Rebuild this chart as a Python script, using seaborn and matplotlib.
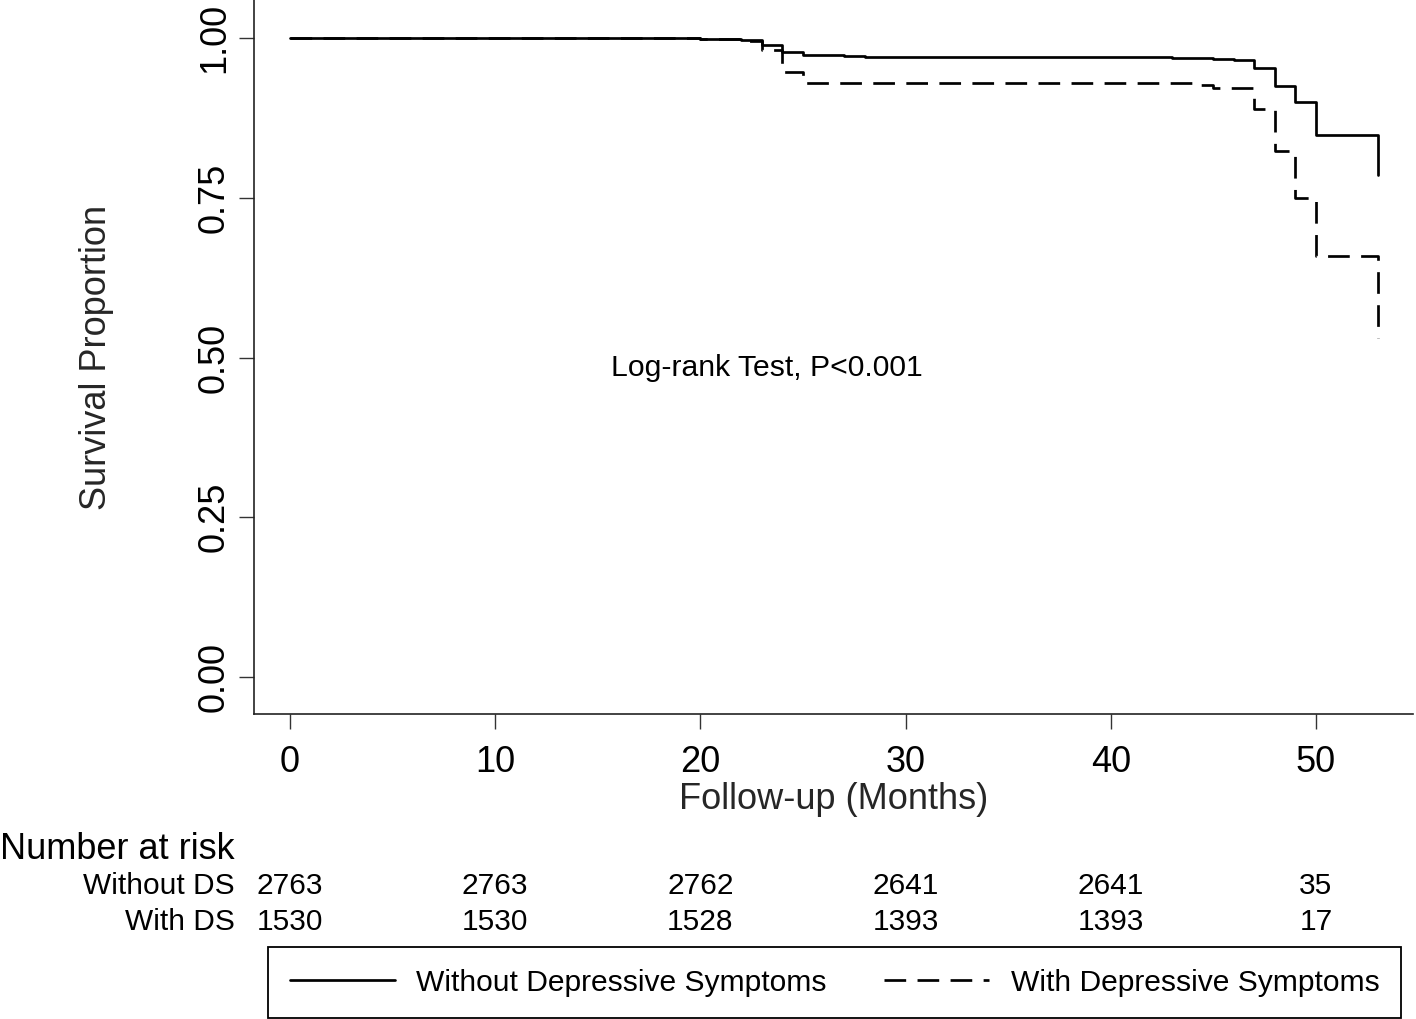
import numpy as np
import pandas as pd
import seaborn as sns
import matplotlib.pyplot as plt
import matplotlib.transforms as mtransforms

# Kaplan-Meier step estimates
groups = ["Without Depressive Symptoms", "With Depressive Symptoms"]
months_without = [0, 20, 22, 23, 24, 25, 27, 28, 43, 45, 46, 47, 48, 49, 50, 53]
surv_without = [1.0, 0.999, 0.997, 0.990, 0.978, 0.974, 0.972, 0.970, 0.969,
                0.967, 0.966, 0.953, 0.925, 0.901, 0.848, 0.786]
months_with = [0, 20, 22, 23, 24, 25, 44, 45, 47, 48, 49, 50, 53]
surv_with = [1.0, 0.999, 0.996, 0.982, 0.948, 0.930, 0.927, 0.922, 0.890,
             0.823, 0.750, 0.659, 0.531]

# number at risk table
risk_times = [0, 10, 20, 30, 40, 50]
risk_labels = ["Without DS", "With DS"]
risk_without = [2763, 2763, 2762, 2641, 2641, 35]
risk_with = [1530, 1530, 1528, 1393, 1393, 17]

x_ticks = [0, 10, 20, 30, 40, 50]
y_ticks = [0.0, 0.25, 0.50, 0.75, 1.0]

df = pd.concat([
    pd.DataFrame({"month": months_without, "surv": surv_without, "group": groups[0]}),
    pd.DataFrame({"month": months_with, "surv": surv_with, "group": groups[1]}),
], ignore_index=True)

sns.set_style("ticks")
plt.rcParams['font.family'] = ['Liberation Sans', 'DejaVu Sans']
plt.rcParams['text.color'] = 'black'

W, H = 1416, 1019
fig = plt.figure(figsize=(W / 100, H / 100), dpi=100)
ax = fig.add_axes([254 / W, 1 - 714 / H, (1413 - 254) / W, 714 / H])

sns.lineplot(
    data=df, x="month", y="surv", style="group", style_order=groups,
    dashes={groups[0]: "", groups[1]: (8.0, 4.2)},
    color="black", linewidth=1.95, drawstyle="steps-post",
    estimator=None, sort=False, legend=False, ax=ax,
)

ax.set_xlim(-1.754, 54.73)
ax.set_ylim(-0.058, 1.060)
ax.set_xticks(x_ticks)
ax.set_yticks(y_ticks)
ax.set_yticklabels([f"{v:.2f}" for v in y_ticks])
ax.tick_params(axis='both', direction='out', length=10.5, width=1.0,
               color='#333333', labelsize=26, labelcolor='black')
ax.tick_params(axis='x', pad=12)
ax.tick_params(axis='y', pad=5.3, labelrotation=90)
for lab in ax.get_yticklabels():
    lab.set_va('center')

sns.despine(ax=ax)
for s in ['left', 'bottom']:
    ax.spines[s].set_linewidth(1.2)
    ax.spines[s].set_color('#222222')

ax.set_xlabel("Follow-up (Months)", fontsize=26)
ax.xaxis.set_label_coords(0.5, (714 - 782) / 712)
ax.set_ylabel("Survival Proportion", fontsize=26)
ax.yaxis.set_label_coords((114 - 254) / 1159, 0.5)

ax.text(0.4424, 0.474, "Log-rank Test, P<0.001", transform=ax.transAxes,
        ha='center', va='baseline', fontsize=21.7)

# risk table below the axis
blend = mtransforms.blended_transform_factory(ax.transData, fig.transFigure)
fig.text(0.0, 1 - 859 / H, "Number at risk", ha='left', va='baseline', fontsize=26)
for row, (lab, vals) in enumerate(zip(risk_labels, [risk_without, risk_with])):
    yb = 1 - (894.5 + row * 36) / H
    fig.text(235 / W, yb, lab, ha='right', va='baseline', fontsize=21.5)
    for t, v in zip(risk_times, vals):
        ax.text(t, yb, str(v), transform=blend, ha='center', va='baseline',
                fontsize=21.5)

handles = ax.get_lines()[:2]
leg = fig.legend(handles, groups, loc='upper left',
                 bbox_to_anchor=(268 / W, 1 - 947 / H), bbox_transform=fig.transFigure,
                 ncol=2, fontsize=21.6, frameon=True, fancybox=False,
                 edgecolor='black', framealpha=1, borderaxespad=0,
                 handlelength=3.5, handletextpad=0.73, columnspacing=1.9,
                 borderpad=0.72)
leg.get_frame().set_linewidth(1.3)

fig.savefig("out.png", dpi=100)
